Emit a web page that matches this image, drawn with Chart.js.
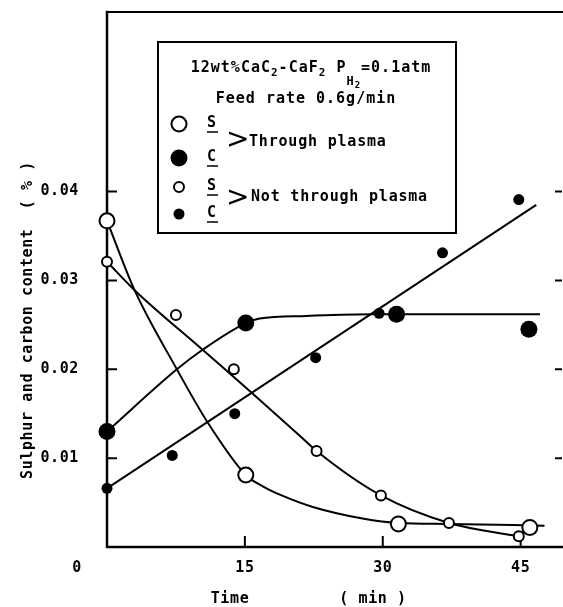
<!DOCTYPE html>
<html>
<head>
<meta charset="utf-8">
<script src="https://cdn.jsdelivr.net/npm/chart.js@4"></script>
<style>
  html, body { margin: 0; padding: 0; background: #fff; overflow: hidden; }
  #wrap { width: 563px; height: 607px; position: relative; overflow: hidden; }
  #chart { display: block; }
</style>
</head>
<body>
<div id="wrap"><canvas id="chart"></canvas></div>
<script>
// tick labels
const timeTicks = [15, 30, 45];
const contentTicks = [0.01, 0.02, 0.03, 0.04];

// measured points (time in min, content in %)
const sPlasmaTime = [0, 15.1, 31.7, 46.0];
const sPlasmaValue = [0.0367, 0.0081, 0.0026, 0.0022];
const cPlasmaTime = [0, 15.1, 31.5, 45.9];
const cPlasmaValue = [0.0130, 0.0252, 0.0262, 0.0245];
const sNoPlasmaTime = [0, 7.5, 13.8, 22.8, 29.8, 37.2, 44.8];
const sNoPlasmaValue = [0.0321, 0.0261, 0.0200, 0.0108, 0.0058, 0.0027, 0.0012];
const cNoPlasmaTime = [0, 7.1, 13.9, 22.7, 29.6, 36.5, 44.8];
const cNoPlasmaValue = [0.0066, 0.0103, 0.0150, 0.0213, 0.0263, 0.0331, 0.0391];

// hand-drawn fit curves
const sPlasmaFitTime = [0, 3.0, 7.6, 10.9, 15.1, 17, 19, 22.4, 27.8, 31.7, 37.2, 47.6];
const sPlasmaFitValue = [0.0367, 0.0289, 0.0200, 0.0141, 0.0081, 0.0068, 0.0058, 0.0045, 0.0032, 0.0027, 0.0026, 0.0024];
const cPlasmaFitTime = [0, 7.6, 10.4, 15.1, 16.6, 21.7, 28.9, 47.1];
const cPlasmaFitValue = [0.0130, 0.0200, 0.0222, 0.0252, 0.0257, 0.0260, 0.0262, 0.0262];
const sNoPlasmaFitTime = [0, 3.0, 10.4, 15.8, 21, 22.8, 29.8, 37.2, 44.8];
const sNoPlasmaFitValue = [0.0321, 0.0289, 0.0222, 0.0173, 0.0125, 0.0108, 0.0058, 0.0027, 0.0012];
const cNoPlasmaFitTime = [0, 46.7];
const cNoPlasmaFitValue = [0.0066, 0.0385];

const yTitle = 'Sulphur and carbon content  ( % )';
const xTitle = 'Time';
const xUnit = '( min )';

const pts = (xs, ys) => xs.map((x, i) => ({ x, y: ys[i] }));
const MONO = '"DejaVu Sans Mono", monospace';
const TXT = 'bold 15px ' + MONO;

const curve = (xs, ys) => ({
  data: pts(xs, ys), showLine: true, borderColor: '#000', borderWidth: 2,
  pointRadius: 0, cubicInterpolationMode: 'monotone', clip: false, order: 2
});
const marks = (xs, ys, r, open) => ({
  data: pts(xs, ys), showLine: false, pointRadius: r,
  pointBackgroundColor: open ? '#fff' : '#000', pointBorderColor: '#000',
  pointBorderWidth: open ? 2 : 0, clip: false, order: 1
});

// axes, ticks and the inset legend
const figure = {
  id: 'figure',
  beforeDatasetsDraw(chart) {
    const { ctx, chartArea: a, scales: { x, y } } = chart;
    ctx.save();
    ctx.strokeStyle = '#000';
    ctx.lineCap = 'square';
    ctx.lineWidth = 2.5;
    ctx.beginPath();
    ctx.moveTo(a.left, a.top); ctx.lineTo(a.left, a.bottom); ctx.lineTo(a.right, a.bottom);
    ctx.stroke();
    ctx.lineWidth = 2;
    ctx.beginPath();
    ctx.moveTo(a.left, a.top); ctx.lineTo(a.right, a.top);
    ctx.stroke();
    ctx.lineCap = 'butt';
    contentTicks.forEach(v => {
      const py = y.getPixelForValue(v);
      ctx.beginPath();
      ctx.moveTo(a.left, py); ctx.lineTo(a.left + 10, py);
      ctx.moveTo(a.right - 7, py); ctx.lineTo(a.right, py);
      ctx.stroke();
    });
    timeTicks.forEach(v => {
      const px = x.getPixelForValue(v);
      ctx.beginPath();
      ctx.moveTo(px, a.bottom); ctx.lineTo(px, a.bottom - 11);
      ctx.stroke();
    });

    ctx.fillStyle = '#000';
    ctx.font = TXT;
    ctx.textBaseline = 'middle';
    ctx.textAlign = 'right';
    ctx.letterSpacing = '0.6px';
    contentTicks.forEach(v => ctx.fillText(v.toFixed(2), a.left - 28, y.getPixelForValue(v)));
    ctx.textAlign = 'center';
    timeTicks.forEach(v => ctx.fillText(String(v), x.getPixelForValue(v), a.bottom + 21));
    ctx.fillText('0', a.left - 30, a.bottom + 21);
    ctx.fillText(xTitle, 230, 599);
    ctx.fillText(xUnit, 373, 599);

    ctx.save();
    ctx.translate(28, 320);
    ctx.rotate(-Math.PI / 2);
    ctx.fillText(yTitle, 0, 0);
    ctx.restore();
    ctx.restore();
  },
  afterDatasetsDraw(chart) {
    const { ctx } = chart;
    ctx.save();
    ctx.fillStyle = '#fff';
    ctx.fillRect(158, 42, 298, 191);
    ctx.strokeStyle = '#000';
    ctx.lineWidth = 2;
    ctx.strokeRect(158, 42, 298, 191);
    ctx.fillStyle = '#000';
    ctx.letterSpacing = '1px';

    // first line with subscripts
    const parts = [
      { t: '12wt%CaC', f: 15, dy: 0 }, { t: '2', f: 11, dy: 4 },
      { t: '-CaF', f: 15, dy: 0 }, { t: '2', f: 11, dy: 4 },
      { t: ' P', f: 15, dy: 0 }, { t: 'H', f: 12, dy: 13 }, { t: '2', f: 9, dy: 16 },
      { t: '=0.1atm', f: 15, dy: 0 }
    ];
    let w = 0;
    parts.forEach(p => { ctx.font = 'bold ' + p.f + 'px ' + MONO; p.w = ctx.measureText(p.t).width; w += p.w; });
    let cx = 311 - w / 2;
    ctx.textAlign = 'left';
    ctx.textBaseline = 'alphabetic';
    parts.forEach(p => { ctx.font = 'bold ' + p.f + 'px ' + MONO; ctx.fillText(p.t, cx, 72 + p.dy); cx += p.w; });

    ctx.font = TXT;
    ctx.textAlign = 'center';
    ctx.fillText('Feed rate 0.6g/min', 306, 103);

    // marker keys
    const keys = [
      { y: 124, r: 7.5, open: true, l: 'S' },
      { y: 158, r: 8.5, open: false, l: 'C' },
      { y: 187, r: 5, open: true, l: 'S' },
      { y: 214, r: 5.5, open: false, l: 'C' }
    ];
    keys.forEach(k => {
      ctx.beginPath();
      ctx.arc(179, k.y, k.r, 0, Math.PI * 2);
      if (k.open) { ctx.fillStyle = '#fff'; ctx.fill(); ctx.lineWidth = 2; ctx.stroke(); }
      else { ctx.fillStyle = '#000'; ctx.fill(); }
      ctx.fillStyle = '#000';
      ctx.textBaseline = 'middle';
      ctx.fillText(k.l, 212, k.y - 1);
      ctx.lineWidth = 1.5;
      ctx.beginPath();
      ctx.moveTo(207, k.y + 8); ctx.lineTo(218, k.y + 8);
      ctx.stroke();
    });

    ctx.letterSpacing = '0px';
    ctx.font = '28px "DejaVu Sans"';
    ctx.textAlign = 'left';
    ctx.fillText('>', 226, 141);
    ctx.fillText('>', 226, 199);
    ctx.letterSpacing = '0.8px';
    ctx.font = TXT;
    ctx.fillText('Through plasma', 249, 142);
    ctx.fillText('Not through plasma', 251, 197);
    ctx.restore();
  }
};

new Chart(document.getElementById('chart'), {
  type: 'scatter',
  data: {
    datasets: [
      curve(sPlasmaFitTime, sPlasmaFitValue),
      curve(cPlasmaFitTime, cPlasmaFitValue),
      curve(sNoPlasmaFitTime, sNoPlasmaFitValue),
      curve(cNoPlasmaFitTime, cNoPlasmaFitValue),
      marks(sPlasmaTime, sPlasmaValue, 7.5, true),
      marks(cPlasmaTime, cPlasmaValue, 8.5, false),
      marks(sNoPlasmaTime, sNoPlasmaValue, 5, true),
      marks(cNoPlasmaTime, cNoPlasmaValue, 5.5, false)
    ]
  },
  options: {
    responsive: true,
    maintainAspectRatio: false,
    animation: false,
    events: [],
    layout: { autoPadding: false, padding: { left: 107, top: 12, right: 1, bottom: 60 } },
    plugins: { legend: { display: false }, tooltip: { enabled: false } },
    scales: {
      x: { type: 'linear', display: false, min: 0, max: 49.5 },
      y: { type: 'linear', display: false, min: 0, max: 0.0602 }
    }
  },
  plugins: [figure]
});
</script>
</body>
</html>
